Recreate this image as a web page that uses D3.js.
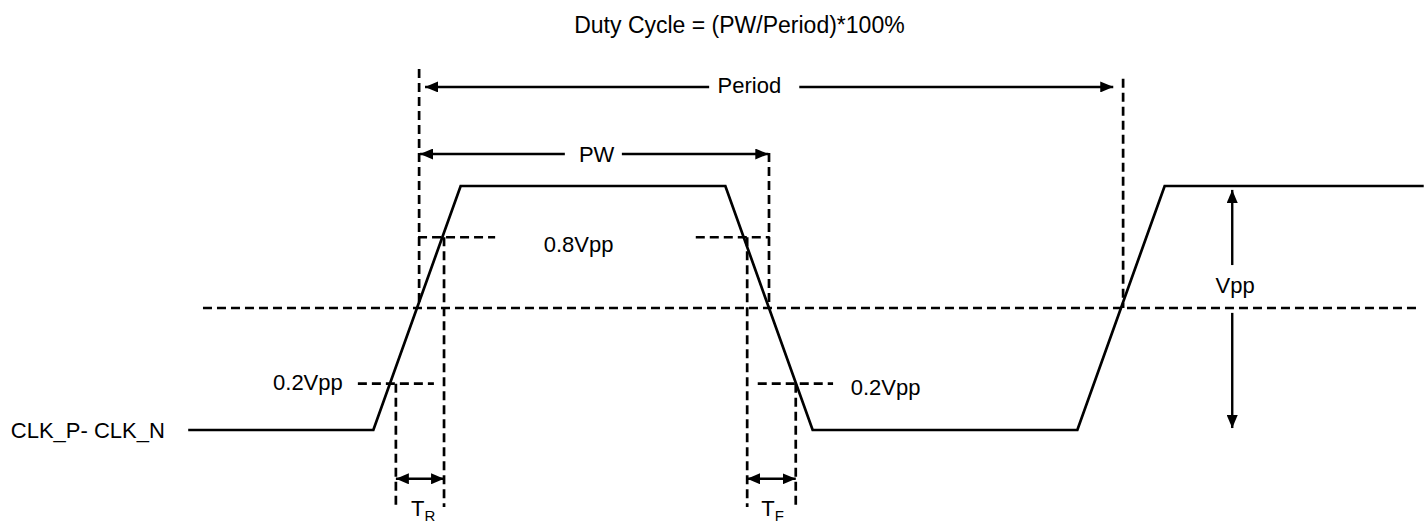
<!DOCTYPE html>
<html>
<head>
<meta charset="utf-8">
<script src="https://cdn.jsdelivr.net/npm/d3@7"></script>
<style>
  html, body { margin: 0; padding: 0; background: #fff; }
  svg { display: block; font-family: "Liberation Sans", Arial, sans-serif; }
</style>
</head>
<body>
<div id="chart"></div>
<script>
// time in units of period (period = 100), level in units of Vpp
var waveTime  = [-32.5, -6.2, 6.2, 43.8, 56.2, 93.8, 106.2, 143];
var waveLevel = [0, 0, 1, 1, 0, 0, 1, 1];

var midLevel = 0.5;          // crossing level

// vertical dashed markers [t, fromLevel, toLevel]
var vMarks = [
  [0.3, 1.48, 0.5],     // period start
  [50, 1.135, 0.5],     // pw end
  [100.3, 1.44, 0.5],   // period end
  [-3.0, 0.19, -0.316], // tr left
  [3.84, 0.79, -0.316], // tr right
  [46.9, 0.79, -0.316], // tf left
  [53.8, 0.19, -0.316]  // tf right
];
// horizontal threshold dashes (0.8Vpp / 0.2Vpp) [t0, t1, level]
var hMarks = [
  [0.15, 11.1, 0.79],
  [-8.4, 2.4, 0.19],
  [39.6, 50.1, 0.79],
  [48.4, 59.1, 0.19]
];
// dimension arrows [t0, t1, level, gap0, gap1]
var hArrows = [
  [1.14, 98.9, 1.406, 41.5, 54.3],    // Period
  [0.43, 49.9, 1.131, 21.0, 29.1],    // PW
  [-3.0, 3.84, -0.2, null, null],     // TR
  [46.9, 53.8, -0.2, null, null]      // TF
];
var vppTime = 115.8;
var vppArrows = [[0.676, 0.984], [0.48, 0.008]];

var labels = [
  {text: "Duty Cycle = (PW/Period)*100%", t: 45.8, v: 1.627, anchor: "middle", size: 23},
  {text: "Period", t: 42.7, v: 1.381, anchor: "start", size: 22},
  {text: "PW", t: 23.0, v: 1.098, anchor: "start", size: 22},
  {text: "0.8Vpp", t: 18.0, v: 0.730, anchor: "start", size: 22},
  {text: "0.2Vpp", t: -20.45, v: 0.164, anchor: "start", size: 22},
  {text: "0.2Vpp", t: 61.6, v: 0.143, anchor: "start", size: 22},
  {text: "Vpp", t: 116.2, v: 0.561, anchor: "middle", size: 22},
  {text: "CLK_P- CLK_N", t: -57.7, v: -0.033, anchor: "start", size: 22}
];
var subLabels = [
  {main: "T", sub: "R", t: -0.85, v: -0.352},
  {main: "T", sub: "F", t: 48.9, v: -0.352}
];

var width = 1424, height = 523;
var x = d3.scaleLinear().domain([0, 100]).range([417, 1121]);
var y = d3.scaleLinear().domain([0, 1]).range([430, 186]);

var svg = d3.select("#chart").append("svg")
  .attr("width", width).attr("height", height);

var defs = svg.append("defs");
defs.append("marker").attr("id", "head")
  .attr("viewBox", "0 0 13 11").attr("refX", 13).attr("refY", 5.5)
  .attr("markerWidth", 13).attr("markerHeight", 11)
  .attr("markerUnits", "userSpaceOnUse").attr("orient", "auto-start-reverse")
  .append("path").attr("d", "M0,0 L13,5.5 L0,11 Z").attr("fill", "#000");

// midline
svg.append("line")
  .attr("x1", x(-30.4)).attr("x2", x(142.5))
  .attr("y1", y(midLevel)).attr("y2", y(midLevel))
  .attr("stroke", "#000").attr("stroke-width", 2.7).attr("stroke-dasharray", "9,5");

// dashed markers
svg.selectAll(".vmark").data(vMarks).enter().append("line")
  .attr("x1", d => x(d[0])).attr("x2", d => x(d[0]))
  .attr("y1", d => y(d[1])).attr("y2", d => y(d[2]))
  .attr("stroke", "#000").attr("stroke-width", 2.7).attr("stroke-dasharray", "9,5");

svg.selectAll(".hmark").data(hMarks).enter().append("line")
  .attr("x1", d => x(d[0])).attr("x2", d => x(d[1]))
  .attr("y1", d => y(d[2])).attr("y2", d => y(d[2]))
  .attr("stroke", "#000").attr("stroke-width", 2.7).attr("stroke-dasharray", "9,5");

// waveform
var line = d3.line().x(d => x(d[0])).y(d => y(d[1]));
svg.append("path")
  .datum(d3.zip(waveTime, waveLevel))
  .attr("d", line)
  .attr("fill", "none").attr("stroke", "#000").attr("stroke-width", 2.7)
  .attr("stroke-linejoin", "miter");

// horizontal arrows
hArrows.forEach(function(a) {
  var segs = a[3] === null ? [[a[0], a[1]]] : [[a[0], a[3]], [a[4], a[1]]];
  segs.forEach(function(s, i) {
    var l = svg.append("line")
      .attr("x1", x(s[0])).attr("x2", x(s[1]))
      .attr("y1", y(a[2])).attr("y2", y(a[2]))
      .attr("stroke", "#000").attr("stroke-width", 2.4);
    if (i === 0) l.attr("marker-start", "url(#head)");
    if (i === segs.length - 1) l.attr("marker-end", "url(#head)");
  });
});

// vpp arrows
svg.selectAll(".vpp").data(vppArrows).enter().append("line")
  .attr("x1", x(vppTime)).attr("x2", x(vppTime))
  .attr("y1", d => y(d[0])).attr("y2", d => y(d[1]))
  .attr("stroke", "#000").attr("stroke-width", 2.4)
  .attr("marker-end", "url(#head)");

// labels
svg.selectAll(".lbl").data(labels).enter().append("text")
  .attr("x", d => x(d.t)).attr("y", d => y(d.v))
  .attr("text-anchor", d => d.anchor)
  .attr("font-size", d => d.size)
  .attr("fill", "#000")
  .text(d => d.text);

subLabels.forEach(function(s) {
  var t = svg.append("text")
    .attr("x", x(s.t)).attr("y", y(s.v))
    .attr("font-size", 22).attr("fill", "#000");
  t.append("tspan").text(s.main);
  t.append("tspan").attr("font-size", 15).attr("dy", 5).text(s.sub);
});
</script>
</body>
</html>
